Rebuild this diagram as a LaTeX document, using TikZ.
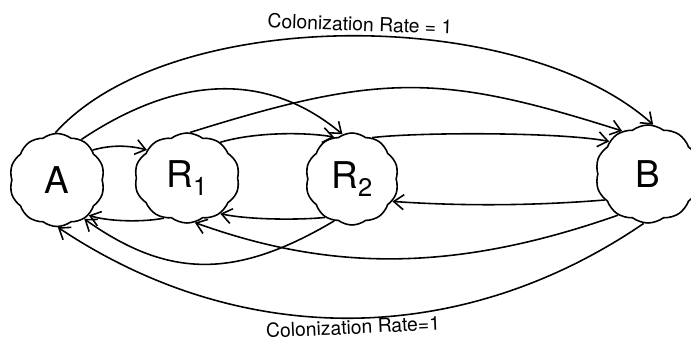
\documentclass[tikz,border=0pt]{standalone}
\usepackage{fontspec}
\setmainfont{TeX Gyre Heros}
\usepackage{tikz}
\usetikzlibrary{shapes.symbols, arrows.meta, positioning}
\newcommand{\lowidx}[1]{\raisebox{-4.5pt}{\fontsize{14.5}{15}\selectfont #1}}

\begin{document}
\begin{tikzpicture}[
    patch/.style={draw, line width=0.9pt, cloud, cloud puffs=10, cloud puff arc=75,
                  cloud ignores aspect, inner sep=0pt, minimum width=1.9cm, minimum height=1.86cm,
                  font=\fontsize{21}{24}\selectfont},
    flow/.style={line width=0.9pt, -{Straight Barb[length=2mm,width=3mm]}},
    rate/.style={font=\fontsize{11}{13}\selectfont, inner sep=1pt}
]
\useasboundingbox (0,0) rectangle (13.82,-6.86);
\node[patch] (a)  at (1.14,-3.60) {A};
\node[patch, minimum width=2.1cm, minimum height=1.8cm] (r1) at (3.74,-3.56) {R\lowidx{1}};
\node[patch, minimum width=1.86cm, minimum height=1.84cm] (r2) at (7.04,-3.58) {R\lowidx{2}};
\node[patch, minimum width=2.1cm, minimum height=1.96cm] (b) at (12.96,-3.48) {B};
% outer arcs
\draw[flow] (a.92) .. controls (3.4,-0.1) and (10.4,-0.1) .. (b.84);
\draw[flow] (b.265) .. controls (9.2,-6.98) and (4.8,-6.98) .. (a.271);
\node[rate, rotate=-2] (top) at (7.2,-0.48) {Colonization Rate = 1};
\node[rate, rotate=2.5] (bot) at (7.06,-6.54) {Colonization Rate=1};
% upper arcs
\draw[flow] (a.59) .. controls (3.62,-1.46) and (5.38,-1.46) .. (r2.102);
\draw[flow] (r1.86) .. controls (7.6,-1.46) and (8.8,-1.46) .. (b.121);
\draw[flow] (a.40) .. controls (2.2,-2.9) and (2.56,-2.9) .. (r1.145);
\draw[flow] (r1.47) .. controls (5.1,-2.64) and (6.1,-2.64) .. (r2.113);
\draw[flow] (r2.64) .. controls (8.4,-2.64) and (11.2,-2.64) .. (b.140);
% lower arcs
\draw[flow] (b.211) .. controls (10.6,-4.12) and (9.2,-4.12) .. (r2.331);
\draw[flow] (r2.235) .. controls (6.0,-4.4) and (5.0,-4.4) .. (r1.313);
\draw[flow] (r1.240) .. controls (2.9,-4.44) and (2.2,-4.44) .. (a.312);
\draw[flow] (r2.247) .. controls (4.72,-5.58) and (3.38,-5.58) .. (a.305);
\draw[flow] (b.234) .. controls (9.12,-5.44) and (6.64,-5.44) .. (r1.280);
\end{tikzpicture}
\end{document}
